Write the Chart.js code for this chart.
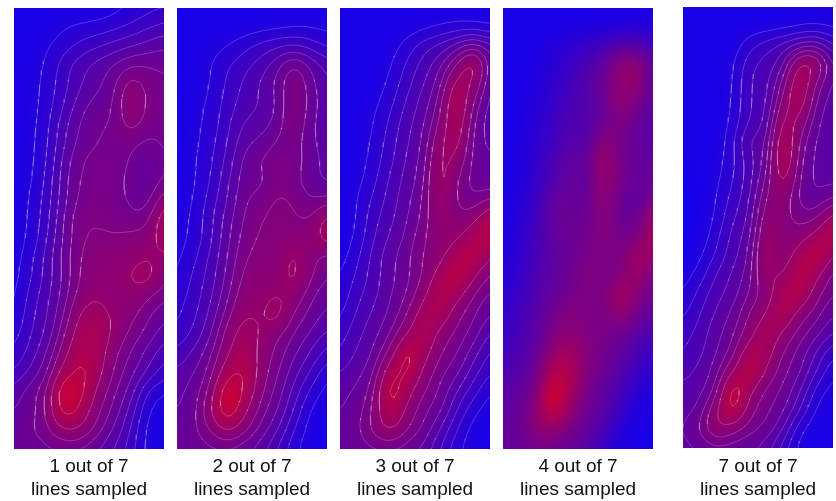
<!DOCTYPE html>
<html>
<head>
<meta charset="utf-8">
<script src="https://cdn.jsdelivr.net/npm/chart.js@4/dist/chart.umd.min.js"></script>
<style>
  html, body { margin: 0; padding: 0; background: #fff; }
  body { width: 836px; height: 501px; position: relative; overflow: hidden; }
  .panel { position: absolute; }
</style>
</head>
<body>
<script>
const captions = ["1 out of 7", "2 out of 7", "3 out of 7", "4 out of 7", "7 out of 7"];
const captionLine2 = "lines sampled";
const contourLevels = [8.5, 16.5, 24.5, 32.5, 40.5, 48.5, 56.5, 68.5, 84.5];

// rows go top to bottom, 0 = deep blue, 100 = red
const panel1Values = [
  [2,2,2,2,2,3,5,9,13,15],
  [2,2,3,8,10,11,14,18,23,28],
  [2,2,8,13,19,24,28,32,36,40],
  [2,4,10,21,31,36,42,49,49,47],
  [2,5,11,22,32,38,46,64,54,50],
  [2,5,12,24,38,44,47,70,54,50],
  [2,5,14,30,42,48,48,64,52,50],
  [2,6,15,32,44,48,52,50,46,50],
  [2,6,16,36,49,52,52,48,42,48],
  [2,7,18,38,50,52,52,46,40,50],
  [2,9,20,38,52,54,50,48,42,64],
  [2,10,21,42,56,56,52,50,50,82],
  [3,10,24,42,56,58,58,60,62,76],
  [4,14,28,44,58,62,62,64,68,66],
  [5,15,28,42,58,64,64,70,78,57],
  [6,20,30,44,62,68,60,66,58,50],
  [8,22,32,48,72,76,66,60,50,42],
  [12,24,34,54,80,80,66,54,46,36],
  [17,28,40,64,84,78,58,48,38,26],
  [24,34,46,76,92,76,54,44,32,20],
  [36,46,54,106,92,64,50,38,14,8],
  [40,44,56,100,80,58,46,30,8,3],
  [44,48,54,68,68,52,40,24,5,2],
  [44,44,46,48,46,40,32,20,5,2]
];
const panel2Values = [
  [2,2,2,2,2,2,2,2,2,2],
  [2,2,2,2,3,4,5,7,7,6],
  [2,2,5,8,14,20,24,26,22,14],
  [2,2,8,16,22,28,38,54,40,30],
  [2,3,8,18,26,34,42,60,44,32],
  [2,5,10,20,28,32,40,60,46,34],
  [2,6,11,22,34,36,42,60,42,34],
  [2,6,13,24,38,42,50,54,42,36],
  [2,7,15,26,44,50,54,54,44,38],
  [2,7,16,30,46,44,56,52,42,38],
  [3,8,20,32,48,52,58,56,48,50],
  [4,10,22,36,50,56,60,58,54,76],
  [5,10,22,38,52,58,60,62,62,78],
  [6,14,26,40,56,60,60,74,60,50],
  [8,18,28,42,60,62,62,74,58,48],
  [12,20,30,46,64,64,70,66,50,42],
  [14,22,34,52,70,66,78,54,46,38],
  [18,26,38,62,76,68,58,48,40,30],
  [26,34,46,66,82,64,54,42,32,20],
  [34,40,50,80,90,62,50,36,24,10],
  [38,44,56,104,86,58,46,30,14,4],
  [40,44,66,106,72,52,42,24,6,3],
  [44,46,56,72,60,46,34,16,4,2],
  [44,44,46,46,42,36,24,10,3,2]
];
const panel3Values = [
  [2,2,2,2,2,2,2,2,2,2],
  [2,2,2,2,3,5,8,10,9,7],
  [2,2,2,4,12,22,28,36,50,36],
  [2,2,2,7,18,28,38,58,84,40],
  [2,2,3,10,22,32,44,80,68,38],
  [2,2,6,14,26,36,50,90,54,36],
  [2,2,8,18,30,38,58,86,46,36],
  [2,2,10,20,32,40,68,78,44,38],
  [2,3,12,22,34,42,74,66,44,42],
  [2,5,14,26,36,44,78,56,44,42],
  [1,8,18,28,38,48,74,54,48,56],
  [0,8,22,30,40,50,70,58,62,88],
  [2,10,24,34,42,56,64,64,82,86],
  [4,14,28,38,46,58,62,80,92,66],
  [8,18,28,38,46,56,76,96,70,52],
  [10,22,30,40,48,64,88,74,54,46],
  [14,26,34,42,54,80,82,58,50,40],
  [20,30,38,46,68,86,62,54,46,30],
  [24,34,40,58,96,76,56,50,36,22],
  [32,38,44,82,92,64,50,44,28,16],
  [38,42,50,100,74,56,48,32,20,8],
  [40,44,56,90,64,50,44,24,10,3],
  [42,46,60,74,56,48,32,16,4,2],
  [42,44,46,46,44,38,24,10,3,2]
];
const panel4Values = [
  [2,2,2,2,2,2,2,2,2,3],
  [2,2,2,2,3,4,6,8,9,6],
  [2,2,3,8,14,20,26,36,38,24],
  [2,2,4,12,20,30,40,66,72,36],
  [2,2,7,15,24,36,44,66,68,38],
  [2,2,10,18,28,32,44,68,52,38],
  [2,3,12,20,34,30,46,56,44,34],
  [2,4,14,22,36,32,66,52,42,36],
  [2,5,16,30,42,38,78,50,44,40],
  [2,6,18,32,44,38,72,52,42,42],
  [2,8,20,42,46,40,68,46,36,54],
  [2,9,24,44,46,44,64,46,42,76],
  [4,12,26,40,46,50,60,50,54,80],
  [6,14,28,38,44,52,56,52,78,66],
  [8,18,30,40,46,62,50,56,76,50],
  [12,22,32,44,50,54,52,84,60,46],
  [16,24,36,50,60,54,50,68,48,38],
  [20,28,38,56,64,58,52,48,38,28],
  [24,32,40,68,80,58,50,40,30,18],
  [30,36,46,88,86,56,46,36,22,10],
  [36,40,52,110,80,50,40,28,12,5],
  [40,42,64,100,66,46,42,20,6,3],
  [42,44,64,68,52,44,30,10,3,2],
  [42,44,48,46,42,36,16,6,2,2]
];
const panel5Values = [
  [2,2,2,2,2,2,2,2,2,5],
  [2,2,2,2,2,2,3,5,6,4],
  [2,2,2,3,14,22,28,36,42,24],
  [2,2,2,6,24,28,36,78,74,38],
  [2,2,2,7,26,28,50,88,52,38],
  [2,2,2,8,26,28,62,84,44,36],
  [2,2,2,10,26,30,78,66,40,36],
  [2,2,2,14,38,34,90,54,38,36],
  [2,2,4,14,30,40,92,48,38,36],
  [0,2,6,16,28,50,78,46,38,38],
  [0,0,8,20,30,60,66,44,40,48],
  [0,0,10,24,32,68,60,52,52,78],
  [0,2,14,28,36,74,60,60,76,88],
  [0,6,18,30,40,78,56,78,96,64],
  [4,12,26,34,44,72,64,92,72,50],
  [8,20,30,36,50,60,80,88,58,48],
  [14,24,34,42,58,68,88,60,52,40],
  [20,28,38,46,62,84,66,52,44,32],
  [24,30,40,50,82,78,54,46,32,16],
  [30,34,44,66,96,66,50,44,24,10],
  [34,38,46,104,70,52,48,34,12,4],
  [38,40,68,98,58,50,44,26,5,3],
  [40,50,72,60,50,48,34,8,3,2],
  [38,40,44,42,42,36,20,4,2,2]
];

const panelValues = [panel1Values, panel2Values, panel3Values, panel4Values, panel5Values];
const panelLeft = [14, 177, 340, 503, 683];
const panelTop = [8, 8, 8, 8, 7];
const hasContours = [true, true, true, false, true];
const SUB = 4; // display subdivisions per grid cell

function heatColor(v) {
  const t = Math.max(0, Math.min(100, v));
  return [20 + 1.9 * t, 0, 235 - 1.9 * t];
}

/* cubic b-spline resampling so the field and its contours are not faceted */
function bspline(t) {
  return [(1 - t) ** 3 / 6, (3 * t ** 3 - 6 * t ** 2 + 4) / 6, (-3 * t ** 3 + 3 * t ** 2 + 3 * t + 1) / 6, t ** 3 / 6];
}

function resample(rows) {
  const ny = rows.length, nx = rows[0].length;
  const at = (j, i) => rows[Math.max(0, Math.min(ny - 1, j))][Math.max(0, Math.min(nx - 1, i))];
  const out = [];
  for (let j = 0; j <= (ny - 1) * SUB; j++) {
    const jb = Math.floor(j / SUB), wy = bspline(j / SUB - jb);
    const row = [];
    for (let i = 0; i <= (nx - 1) * SUB; i++) {
      const ib = Math.floor(i / SUB), wx = bspline(i / SUB - ib);
      let sum = 0;
      for (let a = 0; a < 4; a++) {
        for (let b = 0; b < 4; b++) {
          sum += wy[a] * wx[b] * at(jb + a - 1, ib + b - 1);
        }
      }
      row.push(sum);
    }
    out.push(row);
  }
  return out;
}

/* contour segments of one level, marching squares */
function contourPoints(rows, level) {
  const pts = [];
  const cross = (a, b) => (level - a) / (b - a);
  for (let j = 0; j < rows.length - 1; j++) {
    for (let i = 0; i < rows[0].length - 1; i++) {
      const tl = rows[j][i], tr = rows[j][i + 1], br = rows[j + 1][i + 1], bl = rows[j + 1][i];
      const hits = [];
      if ((tl < level) !== (tr < level)) hits.push({ x: (i + cross(tl, tr)) / SUB, y: j / SUB });
      if ((tr < level) !== (br < level)) hits.push({ x: (i + 1) / SUB, y: (j + cross(tr, br)) / SUB });
      if ((bl < level) !== (br < level)) hits.push({ x: (i + cross(bl, br)) / SUB, y: (j + 1) / SUB });
      if ((tl < level) !== (bl < level)) hits.push({ x: i / SUB, y: (j + cross(tl, bl)) / SUB });
      for (let k = 0; k + 1 < hits.length; k += 2) {
        pts.push(hits[k], hits[k + 1], { x: NaN, y: NaN });
      }
    }
  }
  return pts;
}

/* heatmap under the contour lines */
const heatmap = {
  id: "heatmap",
  beforeDatasetsDraw(chart, args, opts) {
    const rows = opts.fine;
    const nx = rows[0].length, ny = rows.length;
    const off = document.createElement("canvas");
    off.width = nx;
    off.height = ny;
    const octx = off.getContext("2d");
    const img = octx.createImageData(nx, ny);
    rows.forEach((row, j) => row.forEach((v, i) => {
      const c = heatColor(v), p = (j * nx + i) * 4;
      img.data[p] = c[0];
      img.data[p + 1] = c[1];
      img.data[p + 2] = c[2];
      img.data[p + 3] = 255;
    }));
    octx.putImageData(img, 0, 0);

    const { ctx, chartArea, scales } = chart;
    const half = 0.5 / SUB;
    const x0 = scales.x.getPixelForValue(-half), x1 = scales.x.getPixelForValue((nx - 1) / SUB + half);
    const y0 = scales.y.getPixelForValue(-half), y1 = scales.y.getPixelForValue((ny - 1) / SUB + half);
    ctx.save();
    ctx.beginPath();
    ctx.rect(chartArea.left, chartArea.top, chartArea.width, chartArea.height);
    ctx.clip();
    ctx.imageSmoothingEnabled = true;
    ctx.imageSmoothingQuality = "high";
    ctx.drawImage(off, x0, y0, x1 - x0, y1 - y0);
    ctx.restore();
  }
};

panelValues.forEach((rows, p) => {
  const canvas = document.createElement("canvas");
  canvas.className = "panel";
  canvas.width = 150;
  canvas.height = 501 - panelTop[p];
  canvas.style.left = panelLeft[p] + "px";
  canvas.style.top = panelTop[p] + "px";
  document.body.appendChild(canvas);

  const fine = resample(rows);
  const levels = hasContours[p] ? contourLevels : [];
  new Chart(canvas.getContext("2d"), {
    type: "scatter",
    data: {
      datasets: levels.map(level => ({
        label: "level " + level,
        data: contourPoints(fine, level),
        showLine: true,
        spanGaps: false,
        pointRadius: 0,
        borderWidth: 0.5,
        borderColor: "rgba(255,255,255,0.42)"
      }))
    },
    options: {
      responsive: false,
      animation: false,
      layout: { padding: 0 },
      scales: {
        x: { display: false, min: 0, max: rows[0].length - 1 },
        y: { display: false, reverse: true, min: 0, max: rows.length - 1 }
      },
      plugins: {
        legend: { display: false },
        tooltip: { enabled: false },
        heatmap: { fine },
        title: {
          display: true,
          position: "bottom",
          text: [captions[p], captionLine2],
          color: "#111",
          font: { family: "Liberation Sans", size: 19, weight: "normal", lineHeight: 23 / 19 },
          padding: { top: 14 - panelTop[p], bottom: 0 }
        }
      }
    },
    plugins: [heatmap]
  });
});
</script>
</body>
</html>
